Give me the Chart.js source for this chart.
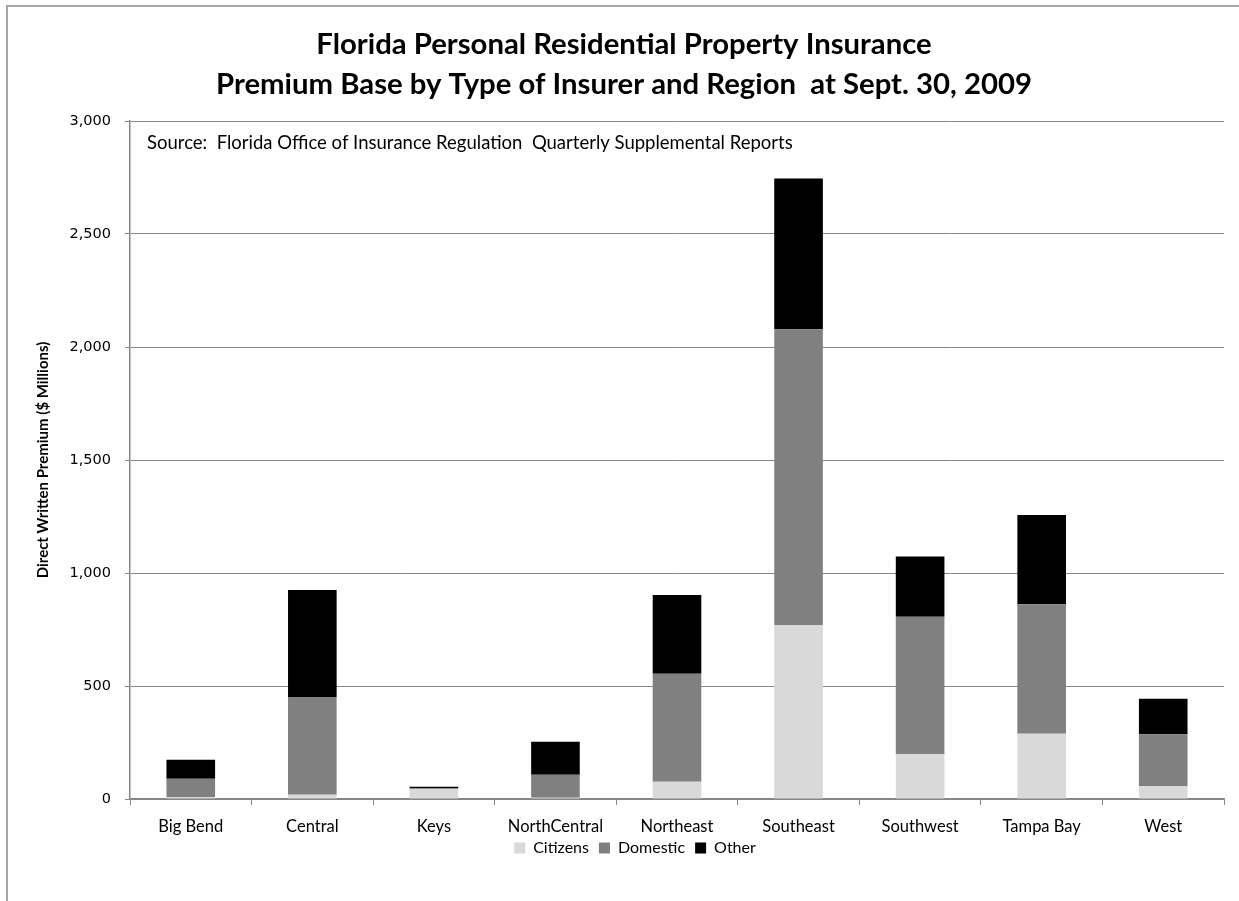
<!DOCTYPE html>
<html>
<head>
<meta charset="utf-8">
<title>Florida Personal Residential Property Insurance</title>
<script src="https://cdn.jsdelivr.net/npm/chart.js@4/dist/chart.umd.min.js"></script>
<style>
    html, body { margin: 0; padding: 0; background: #fff; }
    #wrap { position: relative; width: 1239px; height: 901px; overflow: hidden; }
    #frame {
        position: absolute; left: 6px; top: 5px; width: 1300px; height: 1000px;
        border-left: 2px solid #a6a6a6; border-top: 2px solid #a6a6a6;
    }
    #premiumChart { position: absolute; left: 0; top: 0; }
</style>
</head>
<body>
<div id="wrap">
    <div id="frame"></div>
    <canvas id="premiumChart" width="1239" height="901"></canvas>
</div>
<script>
// Direct written premium, $ millions, by region at Sept. 30, 2009
var regions = ["Big Bend", "Central", "Keys", "NorthCentral", "Northeast", "Southeast", "Southwest", "Tampa Bay", "West"];
var citizens = [8, 19, 44, 5, 76, 770, 198, 289, 58];
var domestic = [82, 432, 4, 102, 478, 1308, 608, 573, 229];
var other = [84, 474, 6, 146, 349, 668, 267, 395, 157];

var sourceNote = "Source:  Florida Office of Insurance Regulation  Quarterly Supplemental Reports";
var bodyFont = "Lato";

// writes the source line inside the top-left corner of the plot
var sourceNotePlugin = {
    id: "sourceNote",
    afterDraw: function (chart) {
        var ctx = chart.ctx;
        var area = chart.chartArea;
        ctx.save();
        ctx.font = "18.5px " + bodyFont;
        ctx.fillStyle = "#000";
        ctx.textAlign = "left";
        ctx.textBaseline = "middle";
        ctx.fillText(sourceNote, area.left + 17, area.top + 22);
        ctx.restore();
    }
};

// nudge the title and legend boxes after layout
var boxShift = {
    id: "boxShift",
    afterLayout: function (chart) {
        var lg = chart.legend;
        var dx = (chart.chartArea.left + chart.chartArea.right) / 2 - (lg.left + lg.right) / 2 - 42;
        lg.left += dx;
        lg.right += dx;
        lg.top -= 9;
        lg.bottom -= 9;

        var tb = chart.titleBlock;
        tb.left += 12;
        tb.right += 12;
    }
};

Chart.defaults.font.family = bodyFont;
Chart.defaults.color = "#000";

new Chart(document.getElementById("premiumChart"), {
    type: "bar",
    data: {
        labels: regions,
        datasets: [
            { label: "Citizens", data: citizens, backgroundColor: "#d9d9d9" },
            { label: "Domestic", data: domestic, backgroundColor: "#808080" },
            { label: "Other", data: other, backgroundColor: "#000000" }
        ]
    },
    options: {
        responsive: false,
        animation: false,
        layout: {
            padding: { left: 0, right: 15, top: 0, bottom: 26 }
        },
        datasets: {
            bar: { barPercentage: 0.4, categoryPercentage: 1.0 }
        },
        plugins: {
            title: {
                display: true,
                text: ["Florida Personal Residential Property Insurance", "Premium Base by Type of Insurer and Region  at Sept. 30, 2009"],
                font: { size: 29.3, weight: "bold", lineHeight: 40 / 29.3 },
                color: "#000",
                padding: { top: 25, bottom: 16 }
            },
            legend: {
                position: "bottom",
                labels: {
                    boxWidth: 11,
                    boxHeight: 11,
                    padding: 10,
                    font: { size: 16 }
                }
            },
            tooltip: { enabled: false }
        },
        scales: {
            x: {
                stacked: true,
                grid: {
                    offset: true,
                    drawOnChartArea: false,
                    color: "#868686",
                    tickLength: 6
                },
                border: { color: "#868686", width: 1.5 },
                ticks: { font: { size: 16.5 }, padding: 12, maxRotation: 0 },
                afterFit: function (scale) { scale.height = 40; }
            },
            y: {
                stacked: true,
                min: 0,
                max: 3000,
                ticks: {
                    stepSize: 500,
                    padding: 14,
                    font: { family: "DejaVu Sans", size: 14.5 },
                    callback: function (v) { return v.toLocaleString("en-US"); }
                },
                grid: { color: "#868686", tickLength: 5 },
                border: { color: "#868686", width: 1.5 },
                title: {
                    display: true,
                    text: "Direct Written Premium ($ Millions)",
                    font: { size: 15, weight: "bold" },
                    padding: { top: 34, bottom: 0 }
                },
                afterFit: function (scale) { scale.width = 130; }
            }
        }
    },
    plugins: [sourceNotePlugin, boxShift]
});
</script>
</body>
</html>
